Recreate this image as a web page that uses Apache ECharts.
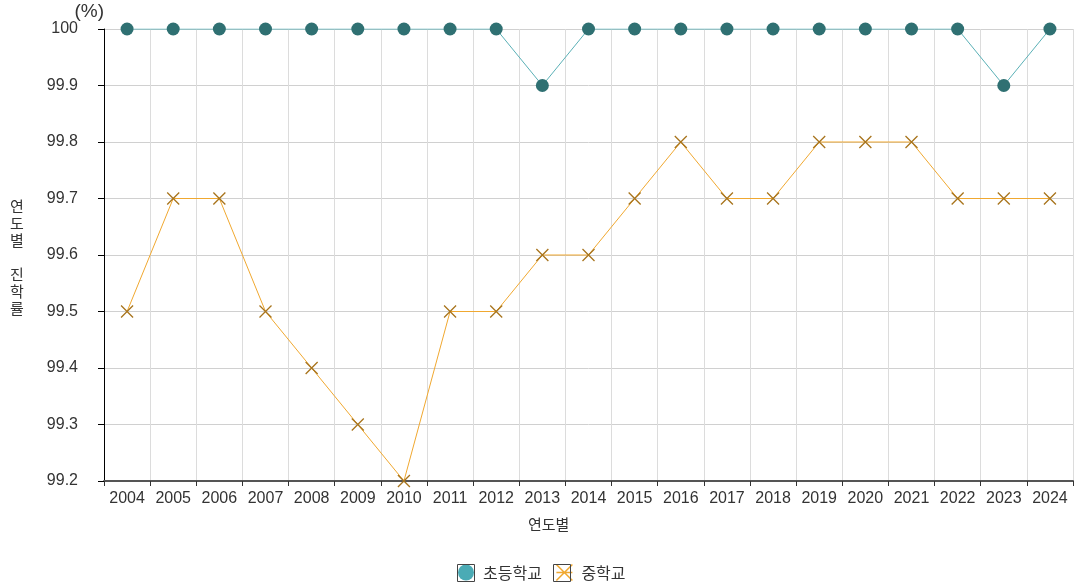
<!DOCTYPE html>
<html>
<head>
<meta charset="utf-8">
<script src="https://cdn.jsdelivr.net/npm/echarts@6/dist/echarts.min.js"></script>
<style>
  html, body { margin: 0; padding: 0; background: #fff; }
  #chart { width: 1074px; height: 588px; }
</style>
</head>
<body>
<div id="chart"></div>
<script>
// 연도별 진학률 (초등학교 → 중학교, 중학교 → 고등학교)
const years = ['2004','2005','2006','2007','2008','2009','2010','2011','2012','2013','2014',
               '2015','2016','2017','2018','2019','2020','2021','2022','2023','2024'];
const elementary = [100,100,100,100,100,100,100,100,100,99.9,100,
                    100,100,100,100,100,100,100,100,99.9,100];
const middle = [99.5,99.7,99.7,99.5,99.4,99.3,99.2,99.5,99.5,99.6,99.6,
                99.7,99.8,99.7,99.7,99.8,99.8,99.8,99.7,99.7,99.7];
const yTicks = [99.2, 99.3, 99.4, 99.5, 99.6, 99.7, 99.8, 99.9, 100];

const FONT = '"Liberation Sans", Arial, "Noto Sans CJK KR", sans-serif';
const KFONT = '"Noto Sans CJK KR", "Liberation Sans", sans-serif';

// legend block: top-left corner, icon size, gaps
const LEG_X = 453, LEG_Y = 557, ICON = 16, LEG_GAP = 12, LEG_FONT = '16px ' + KFONT;
const legendNames = ['초등학교', '중학교'];

const chart = echarts.init(document.getElementById('chart'), null, { renderer: 'canvas' });
chart.setOption({
  animation: false,
  textStyle: { fontFamily: FONT },
  grid: { left: 104, right: 1, top: 29, bottom: 107, containLabel: false },
  legend: {
    left: LEG_X,
    top: LEG_Y,
    itemWidth: ICON,
    itemHeight: ICON,
    itemGap: LEG_GAP,
    textStyle: { fontFamily: KFONT, fontSize: 16, color: '#333', padding: [0, 0, 0, 4] },
    data: [
      { name: legendNames[0], icon: 'circle', itemStyle: { color: '#4aabb5' } },
      { name: legendNames[1], icon: 'path://M0,0L10,10M10,0L0,10M0,5L10,5', itemStyle: { color: 'none', borderColor: '#f0a830', borderWidth: 1.5 } }
    ]
  },
  xAxis: {
    type: 'category',
    data: years,
    boundaryGap: true,
    name: '',
    axisLine: { lineStyle: { color: '#555', width: 2 } },
    axisTick: { show: true, alignWithLabel: false, length: 5, lineStyle: { color: '#333' } },
    axisLabel: { color: '#333', fontSize: 16, margin: 10, interval: 0 },
    splitLine: { show: true, lineStyle: { color: '#dcdcdc', width: 1 } }
  },
  yAxis: {
    type: 'value',
    min: 99.2,
    max: 100,
    interval: 0.1,
    name: '(%)',
    nameLocation: 'end',
    nameGap: 6,
    nameTextStyle: { fontSize: 19, color: '#333', align: 'right' },
    axisLine: { show: true, lineStyle: { color: '#000', width: 1 } },
    axisTick: { show: true, length: 6, lineStyle: { color: '#000' } },
    axisLabel: {
      color: '#333', fontSize: 16, margin: 26,
      formatter: v => {
        const t = yTicks.find(x => Math.abs(x - v) < 1e-6);
        return t === undefined ? '' : String(t);
      }
    },
    splitLine: { show: true, lineStyle: { color: '#d0d0d0', width: 1 } }
  },
  graphic: [
    {
      id: 'yTitle',
      type: 'text',
      left: 10,
      top: 198,
      style: {
        text: '연\n도\n별\n\n진\n학\n률',
        font: '15px ' + KFONT,
        fill: '#333',
        lineHeight: 17,
        textAlign: 'left'
      }
    },
    {
      id: 'xTitle',
      type: 'text',
      left: 528,
      top: 517,
      style: { text: '연도별', font: '15px ' + KFONT, fill: '#333' }
    }
  ],
  series: [
    {
      name: legendNames[0],
      type: 'line',
      data: elementary,
      symbol: 'circle',
      symbolSize: 13,
      itemStyle: { color: '#2f7072' },
      lineStyle: { color: '#5ab0b6', width: 1 },
      z: 3
    },
    {
      name: legendNames[1],
      type: 'line',
      data: middle,
      symbol: 'path://M0,0L10,10M10,0L0,10',
      symbolSize: 12,
      itemStyle: { color: 'none', borderColor: '#a8741c', borderWidth: 1.3 },
      lineStyle: { color: '#f0a830', width: 1 },
      z: 2
    }
  ]
});

// thin frames around the legend icons: vertical centre taken from the laid-out
// circle icon, horizontal steps from the measured legend label widths
let iconCy = LEG_Y + 5 + ICON / 2;
const legendView = chart._componentsViews.find(v => v && v.type === 'legend.plain');
if (legendView) {
  legendView.group.traverse(el => {
    if (el.isGroup || el.type === 'text' || (el.style && el.style.text) || !el.getBoundingRect) return;
    const r = el.getBoundingRect().clone();
    r.applyTransform(el.getComputedTransform());
    if (r.width > 8 && r.width <= ICON + 1 && r.height > 8 && r.height <= ICON + 1) {
      iconCy = r.y + r.height / 2;
    }
  });
}
const ctx = document.createElement('canvas').getContext('2d');
ctx.font = LEG_FONT;
const frames = [];
let fx = LEG_X + 5;
legendNames.forEach((name, i) => {
  frames.push({
    id: 'legendFrame' + i,
    type: 'rect', silent: true, z: 100,
    shape: { x: Math.round(fx) - 0.5, y: Math.round(iconCy - ICON / 2) - 0.5, width: ICON + 1, height: ICON + 1 },
    style: { fill: 'none', stroke: '#444', lineWidth: 1 }
  });
  fx += ICON + 5 + 4 + ctx.measureText(name).width + LEG_GAP;
});
chart.setOption({ graphic: frames });
</script>
</body>
</html>
